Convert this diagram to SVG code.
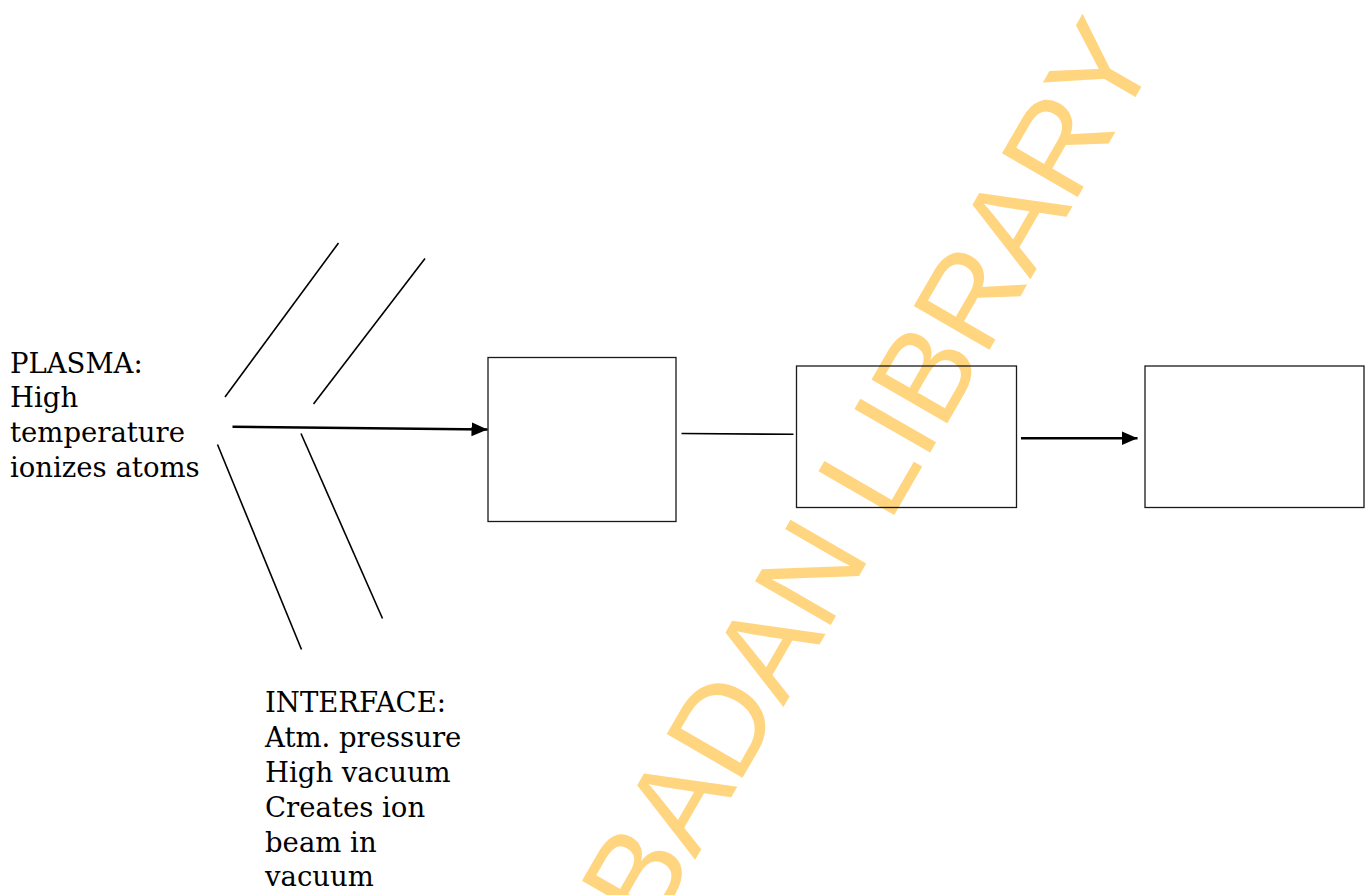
<svg xmlns="http://www.w3.org/2000/svg" width="1370" height="895" viewBox="0 0 1370 895">
<style>
.lbl{font-family:"DejaVu Serif","Liberation Serif",serif;font-size:27.5px;fill:#000}
.box{fill:none;stroke:#1a1a1a;stroke-width:1.3}
.ln{stroke:#000;stroke-width:1.6;fill:none}
.arr{stroke:#000;stroke-width:2.6;fill:none}
.wm{font-family:"Liberation Sans",Arial,sans-serif;font-size:127px;fill:#FFD57F}
</style>
<defs>
<marker id="ah" markerUnits="userSpaceOnUse" markerWidth="17" markerHeight="15" refX="16" refY="7" orient="auto">
<path d="M0,0 L16,7 L0,14 z" fill="#000"/>
</marker>
</defs>
<rect width="1370" height="895" fill="#fff"/>
<g id="watermark">
<text class="wm" transform="translate(652.6,933.4) rotate(-60)">BADAN LIBRARY</text>
</g>
<g id="plasma-label">
<text class="lbl" x="10" y="373">PLASMA:</text>
<text class="lbl" x="10" y="407">High</text>
<text class="lbl" x="10" y="442">temperature</text>
<text class="lbl" x="10" y="476.5">ionizes atoms</text>
</g>
<g id="interface-label">
<text class="lbl" x="265" y="712">INTERFACE:</text>
<text class="lbl" x="265" y="747">Atm. pressure</text>
<text class="lbl" x="265" y="782">High vacuum</text>
<text class="lbl" x="265" y="817">Creates ion</text>
<text class="lbl" x="265" y="852">beam in</text>
<text class="lbl" x="265" y="886">vacuum</text>
</g>
<g id="box1"><rect class="box" x="488" y="357.5" width="188" height="164"/></g>
<g id="box2"><rect class="box" x="796.5" y="366" width="220" height="141.5"/></g>
<g id="box3"><rect class="box" x="1145" y="366" width="219" height="141.5"/></g>
<g id="connectors">
<line class="ln" x1="225" y1="397" x2="338.5" y2="243"/>
<line class="ln" x1="313.5" y1="404" x2="425" y2="258.5"/>
<line class="ln" x1="217.5" y1="444.5" x2="301.5" y2="649.5"/>
<line class="ln" x1="301" y1="433.5" x2="382.5" y2="618.5"/>
<line class="arr" x1="232.5" y1="426.7" x2="487.5" y2="429.5" marker-end="url(#ah)"/>
<line class="ln" x1="681.5" y1="433.5" x2="793.5" y2="434.3"/>
<line class="arr" x1="1021" y1="438.3" x2="1137.5" y2="438.3" marker-end="url(#ah)"/>
</g>
</svg>
